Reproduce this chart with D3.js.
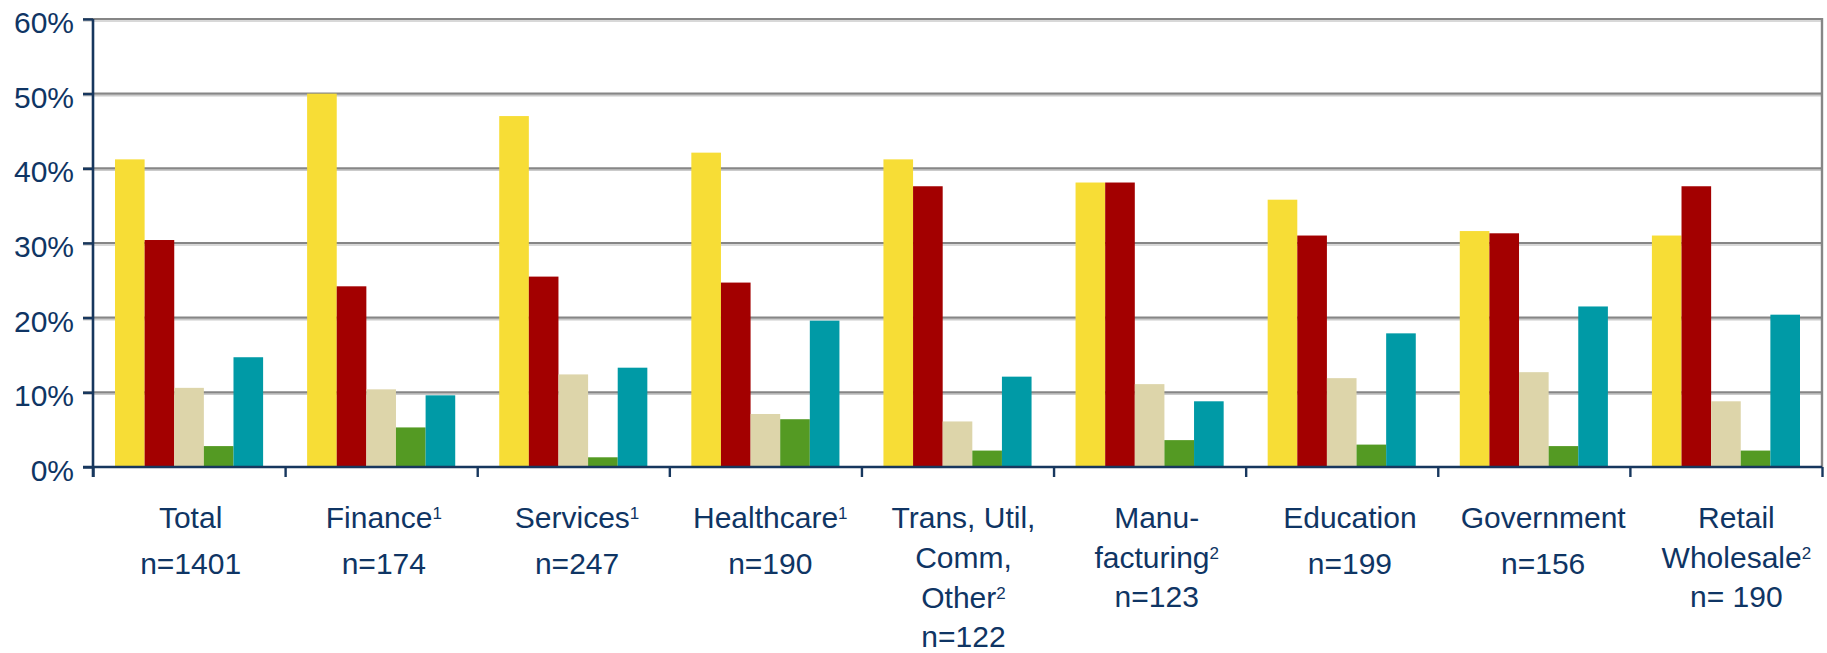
<!DOCTYPE html>
<html>
<head>
<meta charset="utf-8">
<script src="https://cdn.jsdelivr.net/npm/d3@7"></script>
<style>
  html, body { margin: 0; padding: 0; background: #fff; }
  svg { display: block; font-family: "Liberation Sans", Arial, sans-serif; }
</style>
</head>
<body>
<svg id="chart"></svg>
<script>
// categories and their label parts
const categories = ["Total", "Finance", "Services", "Healthcare", "Trans", "Manufacturing", "Education", "Government", "Retail"];
const labelLines = [["Total"], ["Finance"], ["Services"], ["Healthcare"], ["Trans, Util,", "Comm,", "Other"],
  ["Manu-", "facturing"], ["Education"], ["Government"], ["Retail", "Wholesale"]];
const footnotes = ["", "1", "1", "1", "2", "2", "", "", "2"];
const sampleSizes = ["n=1401", "n=174", "n=247", "n=190", "n=122", "n=123", "n=199", "n=156", "n= 190"];

// series values, percent
const seriesNames = ["s1", "s2", "s3", "s4", "s5"];
const s1 = [41.2, 50.0, 47.0, 42.1, 41.2, 38.1, 35.8, 31.6, 31.0];
const s2 = [30.4, 24.2, 25.5, 24.7, 37.6, 38.1, 31.0, 31.3, 37.6];
const s3 = [10.6, 10.4, 12.4, 7.1, 6.1, 11.1, 11.9, 12.7, 8.8];
const s4 = [2.8, 5.3, 1.3, 6.4, 2.2, 3.6, 3.0, 2.8, 2.2];
const s5 = [14.7, 9.6, 13.3, 19.6, 12.1, 8.8, 17.9, 21.5, 20.4];
const colors = ["#F7DD36", "#A30000", "#DDD5AA", "#549A23", "#009AA6"];
const yTicks = [0, 10, 20, 30, 40, 50, 60];

const series = [s1, s2, s3, s4, s5];
const rows = categories.map((c, i) => ({ cat: c, values: series.map((s, j) => ({ key: seriesNames[j], v: s[i] })) }));

const W = 1827, H = 653;
const margin = { top: 19, right: 5, bottom: 186, left: 93 };
const width = W - margin.left - margin.right;
const height = H - margin.top - margin.bottom;
const navy = "#17375E", textCol = "#0F3564";

const svg = d3.select("#chart").attr("width", W).attr("height", H);
const g = svg.append("g").attr("transform", `translate(${margin.left},${margin.top})`);

const y = d3.scaleLinear().domain([0, 60]).range([height, 0]);
const x0 = d3.scaleBand().domain(categories).range([0, width]).padding(0);
const gap = 22;
const x1 = d3.scaleBand().domain(seriesNames).range([gap, x0.bandwidth() - gap]).padding(0);
// label boxes sit slightly right of the bar groups
const xl = d3.scaleBand().domain(categories).range([1, width + 11]).padding(0);

// gridlines (dark line with a light shadow under it)
const grid = g.append("g");
grid.selectAll(".shadow").data(yTicks.slice(1)).enter().append("line")
  .attr("x1", -10).attr("x2", width)
  .attr("y1", d => y(d) + 2).attr("y2", d => y(d) + 2)
  .attr("stroke", "#cbcbcb").attr("stroke-width", 1.5);
grid.selectAll(".grid").data(yTicks.slice(1)).enter().append("line")
  .attr("x1", -10).attr("x2", width)
  .attr("y1", d => y(d)).attr("y2", d => y(d))
  .attr("stroke", "#868686").attr("stroke-width", 2.2);

// right border
g.append("line").attr("x1", width).attr("x2", width).attr("y1", y(60) - 1).attr("y2", height)
  .attr("stroke", "#868686").attr("stroke-width", 2.4);

// bars
const groups = g.selectAll(".grp").data(rows).enter().append("g")
  .attr("transform", d => `translate(${x0(d.cat)},0)`);
groups.selectAll("rect").data(d => d.values).enter().append("rect")
  .attr("x", d => x1(d.key))
  .attr("width", x1.bandwidth())
  .attr("y", d => y(d.v))
  .attr("height", d => height - y(d.v))
  .attr("fill", (d, i) => colors[i]);

// y axis
const yAxis = g.append("g")
  .call(d3.axisLeft(y).tickValues(yTicks).tickSize(10).tickPadding(9).tickFormat(d => d + "%"));
yAxis.select(".domain").attr("stroke", navy).attr("stroke-width", 2.6)
  .attr("d", `M0,${y(60)}V${height + 10}`);
yAxis.selectAll(".tick line").attr("stroke", navy).attr("stroke-width", 2.4);
yAxis.selectAll(".tick text").attr("fill", textCol).attr("font-size", 30)
  .attr("font-family", "Liberation Sans, Arial, sans-serif").attr("dy", "0.45em");

// x axis with ticks at category boundaries
const xb = d3.scaleLinear().domain([0, categories.length]).range([0, width]);
const xAxis = g.append("g").attr("transform", `translate(0,${height})`)
  .call(d3.axisBottom(xb).tickValues(d3.range(categories.length + 1)).tickSize(10).tickFormat(""));
xAxis.select(".domain").attr("stroke", navy).attr("stroke-width", 2.7).attr("d", `M-10,0H${width}`);
xAxis.selectAll(".tick line").attr("stroke", navy).attr("stroke-width", 2.4);

// category labels
const labels = g.append("g").attr("fill", textCol).attr("font-size", 30).attr("text-anchor", "middle");
rows.forEach((r, i) => {
  const cx = xl(r.cat) + xl.bandwidth() / 2;
  const lines = labelLines[i];
  const base = height + 61;
  lines.forEach((ln, k) => {
    const t = labels.append("text").attr("x", cx).attr("y", base + k * 40);
    t.append("tspan").text(ln);
    if (k === lines.length - 1 && footnotes[i]) {
      t.append("tspan").attr("font-size", 17).attr("dy", -9).text(footnotes[i]);
    }
  });
  const ny = base + (lines.length - 1) * 40 + (lines.length === 1 ? 45.5 : 39);
  labels.append("text").attr("x", cx).attr("y", ny).text(sampleSizes[i]);
});
</script>
</body>
</html>
